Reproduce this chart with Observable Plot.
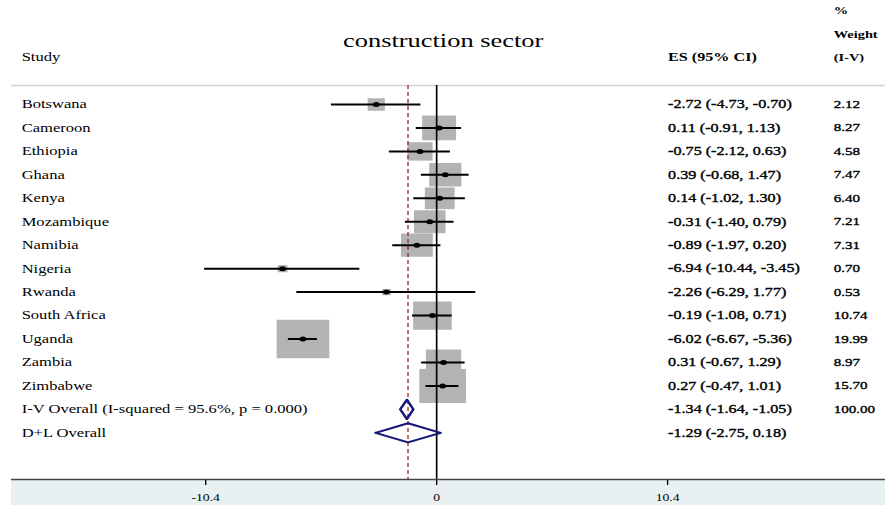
<!DOCTYPE html>
<html><head><meta charset="utf-8">
<script src="https://cdn.jsdelivr.net/npm/d3@7"></script>
<script src="https://cdn.jsdelivr.net/npm/@observablehq/plot@0.6"></script>
<style>
html,body{margin:0;padding:0;background:white;}
#chart{width:894px;height:505px;overflow:hidden;}
</style></head><body><div id="chart"></div>
<script>
// ---- data ----
const studies = ["Botswana","Cameroon","Ethiopia","Ghana","Kenya","Mozambique","Namibia","Nigeria","Rwanda","South Africa","Uganda","Zambia","Zimbabwe"];
const esValues = [-2.72, 0.11, -0.75, 0.39, 0.14, -0.31, -0.89, -6.94, -2.26, -0.19, -6.02, 0.31, 0.27];
const ciLow = [-4.73, -0.91, -2.12, -0.68, -1.02, -1.40, -1.97, -10.44, -6.29, -1.08, -6.67, -0.67, -0.47];
const ciHigh = [-0.70, 1.13, 0.63, 1.47, 1.30, 0.79, 0.20, -3.45, 1.77, 0.71, -5.36, 1.29, 1.01];
const weights = [2.12, 8.27, 4.58, 7.47, 6.40, 7.21, 7.31, 0.70, 0.53, 10.74, 19.99, 8.97, 15.70];
const overallLabels = ["I-V Overall (I-squared = 95.6%, p = 0.000)", "D+L Overall"];
const overallEs = [-1.34, -1.29];
const overallLow = [-1.64, -2.75];
const overallHigh = [-1.05, 0.18];
const overallWeight = ["100.00", ""];
const xTicks = [-10.4, 0, 10.4];
const titleText = "construction sector";
const studyHeader = "Study";
const esHeader = "ES (95% CI)";
const weightHeader = ["%", "Weight", "(I-V)"];

// ---- layout ----
const W = 653, H = 505;          // drawn in a narrower box, then stretched to 894 wide
const fmt = v => v.toFixed(2);
const rows = studies.map((s, i) => ({name: s, row: i, es: esValues[i], lo: ciLow[i], hi: ciHigh[i], w: weights[i], wt: fmt(weights[i])}));
const overall = overallLabels.map((s, j) => ({name: s, row: studies.length + j, es: overallEs[j], lo: overallLow[j], hi: overallHigh[j], wt: overallWeight[j]}));
const all = rows.concat(overall);
const dH = 0.41;
const diamonds = overall.flatMap(d => [
  {name: d.name, x: d.lo, y: d.row}, {name: d.name, x: d.es, y: d.row - dH},
  {name: d.name, x: d.hi, y: d.row}, {name: d.name, x: d.es, y: d.row + dH},
  {name: d.name, x: d.lo, y: d.row}
]);
const yDomain = [-0.81, 15.99];
const colStudy = 7.3, colEs = 479.5, colWt = 600.5;
const headerRow = -2;
const weightHeaderRows = weightHeader.map((t, k) => ({text: t, row: headerRow - (weightHeader.length - 1 - k)}));
const dlEs = overallEs[1];

const plot = Plot.plot({
  width: W, height: H,
  marginLeft: 8, marginRight: 6.6, marginTop: 85, marginBottom: 26,
  x: {domain: [-19.14, 20.22], ticks: xTicks, tickFormat: d => String(d), tickSize: 6, tickPadding: 8, label: null},
  y: {domain: yDomain, reverse: true, axis: null},
  r: {type: "sqrt", domain: [0, 20], range: [0, 21.7]},
  style: {fontFamily: "'Liberation Serif', 'Times New Roman', serif", fontSize: "10px", color: "black", background: "transparent"},
  marks: [
    Plot.ruleY([yDomain[0]], {stroke: "#d2d2d2", strokeWidth: 1.6}),
    Plot.dot(rows, {x: "es", y: "row", r: "w", symbol: "square", fill: "#b3b3b3"}),
    Plot.ruleX([0], {stroke: "black", strokeWidth: 1.2}),
    Plot.ruleX([dlEs], {stroke: "#a3293a", strokeWidth: 1, strokeDasharray: "4,3"}),
    Plot.ruleY(rows, {y: "row", x1: "lo", x2: "hi", stroke: "black", strokeWidth: 2}),
    Plot.dot(rows, {x: "es", y: "row", r: 2.5, fill: "black"}),
    Plot.line(diamonds, {x: "x", y: "y", z: "name", stroke: "#18187a", strokeWidth: 2}),
    // study labels
    Plot.text(all, {y: "row", text: "name", frameAnchor: "left", dx: colStudy, textAnchor: "start", fontSize: 12.1}),
    // ES column
    Plot.text(all, {y: "row", text: d => `${fmt(d.es)} (${fmt(d.lo)}, ${fmt(d.hi)})`, frameAnchor: "left", dx: colEs, textAnchor: "start", fontSize: 11.8, fill: "black", stroke: "black", strokeWidth: 0.35}),
    // weight column
    Plot.text(all, {y: "row", text: "wt", frameAnchor: "left", dx: colWt, textAnchor: "start", fontSize: 11, fill: "black", stroke: "black", strokeWidth: 0.35}),
    // headers
    Plot.text([studyHeader], {y: [headerRow], frameAnchor: "left", dx: colStudy, textAnchor: "start", fontSize: 12.1}),
    Plot.text([esHeader], {y: [headerRow], frameAnchor: "left", dx: colEs, textAnchor: "start", fontSize: 11.8, fontWeight: "bold"}),
    Plot.text(weightHeaderRows, {y: "row", text: "text", frameAnchor: "left", dx: colWt, textAnchor: "start", fontSize: 10.5, fontWeight: "bold"}),
    // title
    Plot.text([titleText], {frameAnchor: "top", dy: -52, dx: -4, fontSize: 19.3}),
    // axis line
    Plot.ruleY([yDomain[1]], {stroke: "#444", strokeWidth: 1.5})
  ]
});

plot.setAttribute("width", 894);
plot.setAttribute("height", 505);
plot.setAttribute("viewBox", `0 0 ${W} ${H}`);
plot.setAttribute("preserveAspectRatio", "none");
plot.style.width = "894px";
plot.style.height = "505px";
plot.style.maxWidth = "none";
plot.style.background = "white linear-gradient(#e8f0f2,#e8f0f2) 11px 479px / 874px 26px no-repeat";
document.getElementById("chart").appendChild(plot);
</script></body></html>
